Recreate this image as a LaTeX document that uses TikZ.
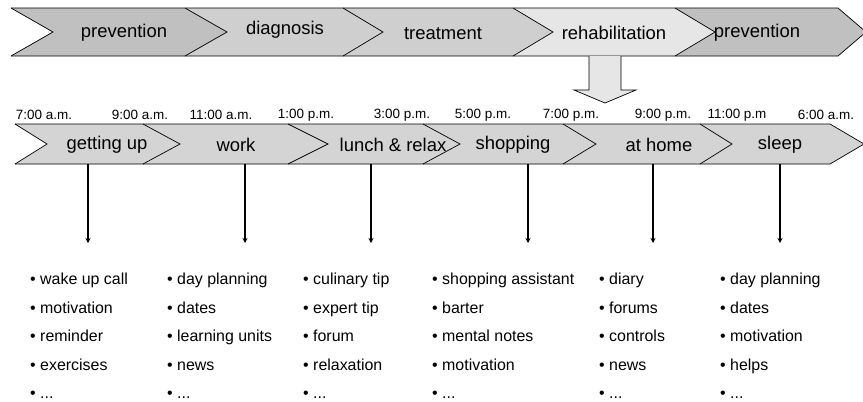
\documentclass[tikz,border=0pt]{standalone}
\usepackage{fontspec}
\setmainfont{Liberation Sans}
\usetikzlibrary{arrows.meta}
\definecolor{gA}{HTML}{C0C0C0}
\definecolor{gB}{HTML}{CFCFCF}
\definecolor{gC}{HTML}{E6E6E6}
\definecolor{gD}{HTML}{D4D4D4}
\tikzset{
  seg/.style={draw=black, line width=0.7bp, line join=miter},
  phase/.style={font=\fontsize{18.5}{20}\selectfont, inner sep=0pt},
  daypart/.style={font=\fontsize{18.5}{20}\selectfont, inner sep=0pt},
  clock/.style={font=\fontsize{13.5}{15}\selectfont, inner sep=0pt},
  items/.style={font=\fontsize{16}{28.6}\selectfont, align=left, inner sep=0pt, anchor=north west},
  down/.style={draw=black, line width=1.6bp, -{Stealth[length=5bp,width=5bp]}},
  bigarrow/.style={draw=black, fill=gC, line width=0.7bp}
}
\begin{document}
\begin{tikzpicture}[x=1bp, y=-1bp]
\useasboundingbox (0,0) rectangle (863,401);
% ---- top bar: phases ----
\def\ta{8}\def\tb{56}\def\tm{32}
\fill[gA] (11,\ta) -- (185,\ta) -- (227,\tm) -- (185,\tb) -- (11,\tb) -- (53,\tm) -- cycle;
\fill[gB] (185,\ta) -- (343,\ta) -- (383,\tm) -- (343,\tb) -- (185,\tb) -- (227,\tm) -- cycle;
\fill[gB] (343,\ta) -- (513,\ta) -- (553,\tm) -- (513,\tb) -- (343,\tb) -- (383,\tm) -- cycle;
\fill[gC] (513,\ta) -- (675,\ta) -- (715,\tm) -- (675,\tb) -- (513,\tb) -- (553,\tm) -- cycle;
\fill[gA] (675,\ta) -- (838,\ta) -- (866,\tm) -- (838,\tb) -- (675,\tb) -- (715,\tm) -- cycle;
\draw[seg] (11,\ta) -- (838,\ta) -- (866,\tm) -- (838,\tb) -- (11,\tb);
\draw[seg] (11,\ta) -- (53,\tm) -- (11,\tb);
\draw[seg] (185,\ta) -- (227,\tm) -- (185,\tb);
\draw[seg] (343,\ta) -- (383,\tm) -- (343,\tb);
\draw[seg] (513,\ta) -- (553,\tm) -- (513,\tb);
\draw[seg] (675,\ta) -- (715,\tm) -- (675,\tb);
\node[phase] (p1) at (124,33) {prevention};
\node[phase] (p2) at (285,30) {diagnosis};
\node[phase] (p3) at (443,34) {treatment};
\node[phase] (p4) at (614,33) {rehabilitation};
\node[phase] (p5) at (757,33) {prevention};
% ---- block arrow ----
\draw[bigarrow] (589,56) -- (589,90) -- (574,90) -- (605,103) -- (636,90) -- (621,90) -- (621,56);
% ---- times ----
\node[clock] (t1) at (44,115) {7:00 a.m.};
\node[clock] (t2) at (140,115) {9:00 a.m.};
\node[clock] (t3) at (221,115) {11:00 a.m.};
\node[clock] (t4) at (306,115) {1:00 p.m.};
\node[clock] (t5) at (402,115) {3:00 p.m.};
\node[clock] (t6) at (483,115) {5:00 p.m.};
\node[clock] (t7) at (571,115) {7:00 p.m.};
\node[clock] (t8) at (663,115) {9:00 p.m.};
\node[clock] (t9) at (737,115) {11:00 p.m};
\node[clock] (t10) at (826,115) {6:00 a.m.};
% ---- day bar ----
\def\ba{124}\def\bb{164}\def\bm{144}
\fill[gD] (15,\ba) -- (830,\ba) -- (864,\bm) -- (830,\bb) -- (15,\bb) -- (47,\bm) -- cycle;
\draw[seg] (15,\ba) -- (830,\ba) -- (864,\bm) -- (830,\bb) -- (15,\bb);
\draw[seg] (15,\ba) -- (47,\bm) -- (15,\bb);
\draw[seg] (143,\ba) -- (180,\bm) -- (143,\bb);
\draw[seg] (288,\ba) -- (328,\bm) -- (288,\bb);
\draw[seg] (563,\ba) -- (596,\bm) -- (563,\bb);
\draw[seg] (700,\ba) -- (732,\bm) -- (700,\bb);
\node[daypart] (d1) at (107,145) {getting up};
\node[daypart] (d2) at (236,145) {work};
\node[daypart] (d3) at (393,145) {lunch \& relax};
\draw[seg] (423,\ba) -- (460,\bm) -- (423,\bb);
\node[daypart] (d4) at (513,145) {shopping};
\node[daypart] (d5) at (659,145) {at home};
\node[daypart] (d6) at (780,145) {sleep};
% ---- connectors ----
\coordinate (s1) at (88,\bb);  \coordinate (e1) at (88,243);
\coordinate (s2) at (245,\bb); \coordinate (e2) at (245,243);
\coordinate (s3) at (371,\bb); \coordinate (e3) at (371,243);
\coordinate (s4) at (528,\bb); \coordinate (e4) at (528,243);
\coordinate (s5) at (653,\bb); \coordinate (e5) at (653,243);
\coordinate (s6) at (780,\bb); \coordinate (e6) at (780,243);
\foreach \i in {1,...,6} \draw[down] (s\i) -- (e\i);
% ---- lists ----
\node[items] (l1) at (30,273) {\textbullet\ wake up call\\\textbullet\ motivation\\\textbullet\ reminder\\\textbullet\ exercises\\\textbullet\ ...};
\node[items] (l2) at (167,273) {\textbullet\ day planning\\\textbullet\ dates\\\textbullet\ learning units\\\textbullet\ news\\\textbullet\ ...};
\node[items] (l3) at (303,273) {\textbullet\ culinary tip\\\textbullet\ expert tip\\\textbullet\ forum\\\textbullet\ relaxation\\\textbullet\ ...};
\node[items] (l4) at (432,273) {\textbullet\ shopping assistant\\\textbullet\ barter\\\textbullet\ mental notes\\\textbullet\ motivation\\\textbullet\ ...};
\node[items] (l5) at (599,273) {\textbullet\ diary\\\textbullet\ forums\\\textbullet\ controls\\\textbullet\ news\\\textbullet\ ...};
\node[items] (l6) at (720,273) {\textbullet\ day planning\\\textbullet\ dates\\\textbullet\ motivation\\\textbullet\ helps\\\textbullet\ ...};
\end{tikzpicture}
\end{document}
